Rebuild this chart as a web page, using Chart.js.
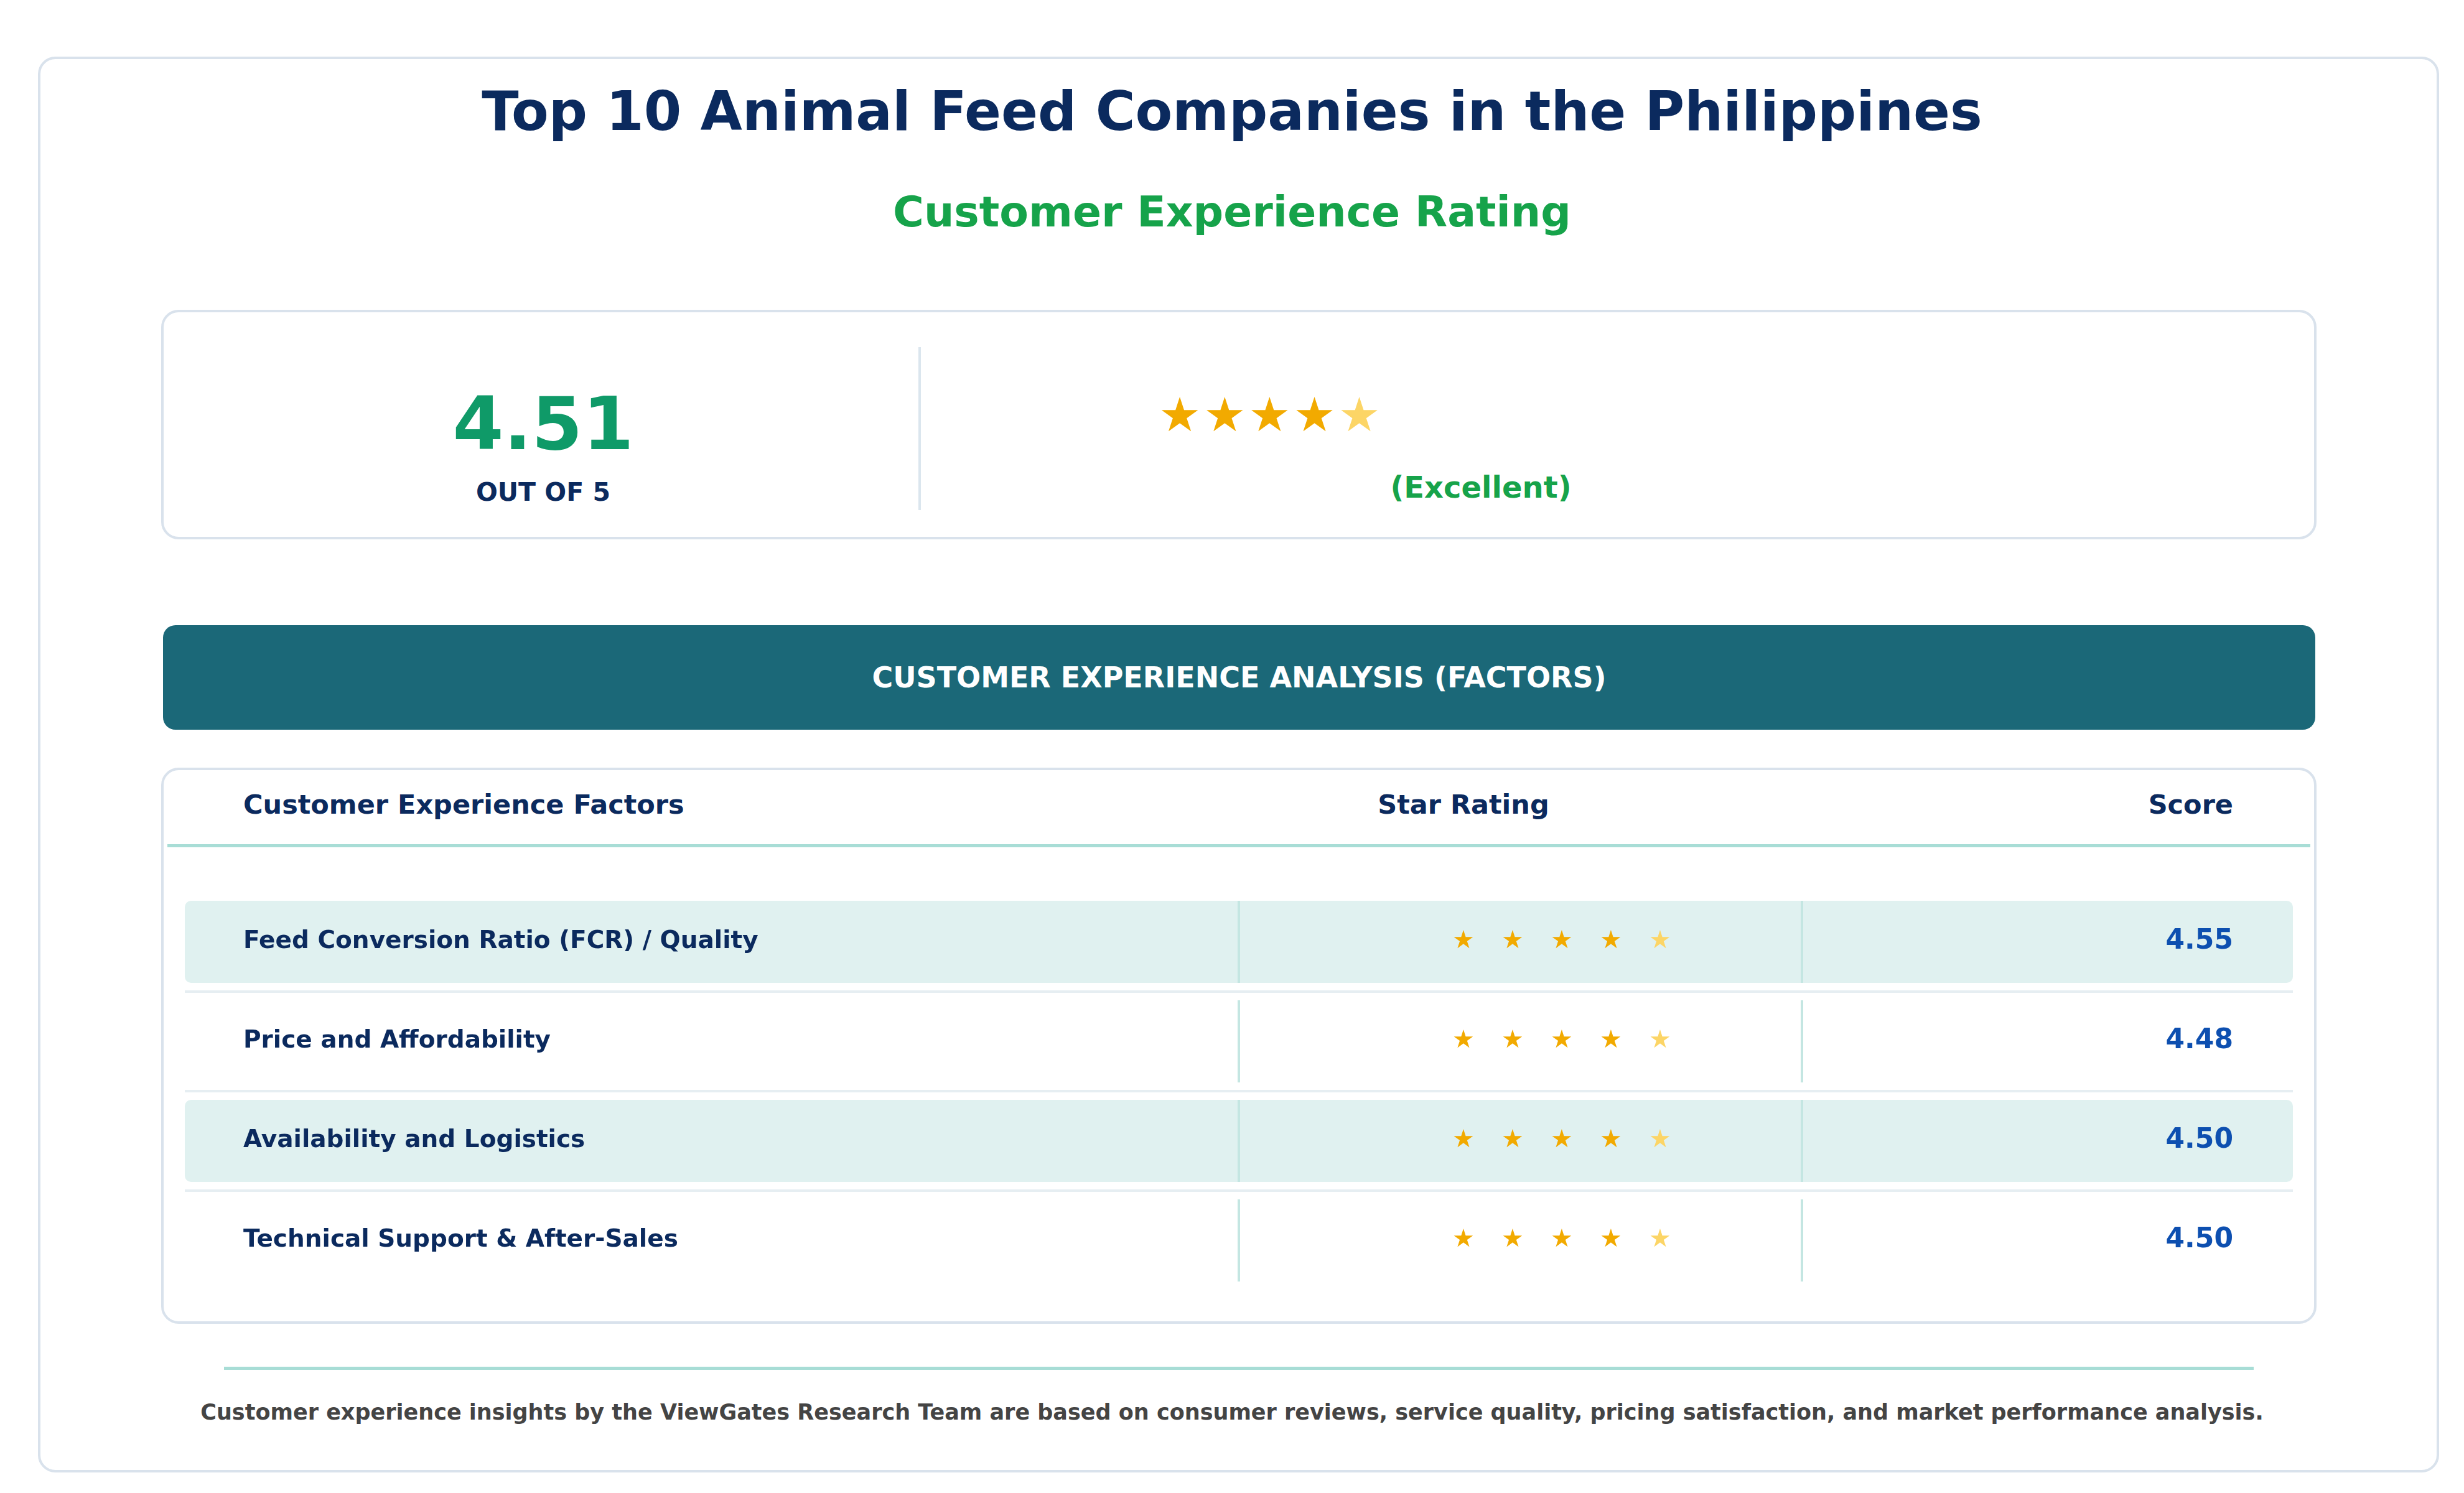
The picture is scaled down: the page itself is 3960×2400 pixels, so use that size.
<!DOCTYPE html>
<html lang="en">
<head>
<meta charset="utf-8" />
<title>Customer Experience Rating</title>
<script src="https://cdn.jsdelivr.net/npm/chart.js"></script>
<style>
  html, body { margin: 0; padding: 0; background: #fff; }
  body { width: 3960px; height: 2400px; position: relative; font-family: "DejaVu Sans", sans-serif; font-weight: bold; }
  .abs { position: absolute; }
  .card { border: 4px solid #d9e2ec; border-radius: 28px; box-sizing: border-box; }
  .ctr { text-align: center; }
</style>
</head>
<body>
<div class="abs card" style="left:61px;top:91px;width:3859px;height:2276px;"></div>
<div class="abs ctr" style="left:0;width:3960px;top:128px;font-size:87px;color:#0b2a5e;">Top 10 Animal Feed Companies in the Philippines</div>
<div class="abs ctr" style="left:0;width:3960px;top:301px;font-size:68px;color:#16a34a;">Customer Experience Rating</div>

<div class="abs card" style="left:259px;top:498px;width:3464px;height:369px;"></div>
<div class="abs" style="left:1476px;top:558px;width:4px;height:262px;background:#dbe6ee;"></div>
<div class="abs ctr" style="left:573px;width:600px;top:612px;font-size:118px;color:#0f9a68;" id="bigScore"></div>
<div class="abs ctr" style="left:573px;width:600px;top:767px;font-size:41px;color:#0b2a5e;">OUT OF 5</div>
<div class="abs" style="left:1862px;top:622px;font-size:76px;color:#f2aa00;letter-spacing:4px;">★★★★<span style="color:#fcd566">★</span></div>
<div class="abs ctr" style="left:2080px;width:600px;top:755px;font-size:48px;color:#16a34a;">(Excellent)</div>

<div class="abs ctr" style="left:262px;top:1005px;width:3459px;height:168px;background:#1b6878;border-radius:20px;color:#fff;font-size:46px;line-height:168px;">CUSTOMER EXPERIENCE ANALYSIS (FACTORS)</div>

<div class="abs card" style="left:259px;top:1234px;width:3464px;height:894px;"></div>
<div class="abs" style="left:391px;top:1268px;font-size:43px;color:#0b2a5e;">Customer Experience Factors</div>
<div class="abs ctr" style="left:2052px;width:600px;top:1268px;font-size:43px;color:#0b2a5e;">Star Rating</div>
<div class="abs" style="left:3289px;width:300px;text-align:right;top:1268px;font-size:43px;color:#0b2a5e;">Score</div>
<div class="abs" style="left:269px;top:1357px;width:3444px;height:5px;background:#a8ddd6;"></div>

<canvas id="tbl" class="abs" width="3464" height="640" style="left:259px;top:1434px;"></canvas>

<div class="abs" style="left:360px;top:2197px;width:3262px;height:5px;background:#a8ddd6;"></div>
<div class="abs ctr" style="left:0;width:3960px;top:2250px;font-size:35px;color:#444;">Customer experience insights by the ViewGates Research Team are based on consumer reviews, service quality, pricing satisfaction, and market performance analysis.</div>

<script>
const overallScore = 4.51;
const factors = ["Feed Conversion Ratio (FCR) / Quality", "Price and Affordability", "Availability and Logistics", "Technical Support & After-Sales"];
const scores = [4.55, 4.48, 4.50, 4.50];

document.getElementById("bigScore").textContent = overallScore.toFixed(2);

const rowPlugin = {
  id: "rows",
  afterDatasetsDraw(chart) {
    const ctx = chart.ctx;
    const y = chart.scales.y;
    ctx.save();
    factors.forEach((name, i) => {
      const cy = y.getPixelForValue(i);
      if (i % 2 === 0) {
        ctx.fillStyle = "#e0f1f0";
        ctx.beginPath();
        ctx.roundRect(38, cy - 66, 3388, 132, 10);
        ctx.fill();
      }
      if (i > 0) {
        ctx.fillStyle = "#e6eef2";
        ctx.fillRect(38, cy - 82, 3388, 4);
      }
      ctx.fillStyle = "#c4e6e2";
      ctx.fillRect(1730, cy - 66, 4, 132);
      ctx.fillRect(2635, cy - 66, 4, 132);
      ctx.textBaseline = "middle";
      ctx.font = "bold 39px 'DejaVu Sans'";
      ctx.fillStyle = "#0b2a5e";
      ctx.textAlign = "left";
      ctx.fillText(name, 132, cy);
      ctx.font = "40px 'DejaVu Sans'";
      ctx.textAlign = "center";
      for (let k = 0; k < 5; k++) {
        ctx.fillStyle = k < 4 ? "#f2aa00" : "#fcd566";
        ctx.fillText("★", 2093 + k * 79, cy);
      }
      ctx.font = "bold 44px 'DejaVu Sans'";
      ctx.fillStyle = "#0d4fb0";
      ctx.textAlign = "right";
      ctx.fillText(scores[i].toFixed(2), 3330, cy);
    });
    ctx.restore();
  }
};

new Chart(document.getElementById("tbl"), {
  type: "bar",
  data: { labels: factors, datasets: [{ data: scores, backgroundColor: "rgba(0,0,0,0)" }] },
  plugins: [rowPlugin],
  options: {
    indexAxis: "y",
    responsive: false,
    devicePixelRatio: 1,
    animation: false,
    layout: { padding: 0 },
    plugins: { legend: { display: false }, tooltip: { enabled: false } },
    scales: { x: { display: false, min: 0, max: 5 }, y: { display: false } }
  }
});
</script>
</body>
</html>
